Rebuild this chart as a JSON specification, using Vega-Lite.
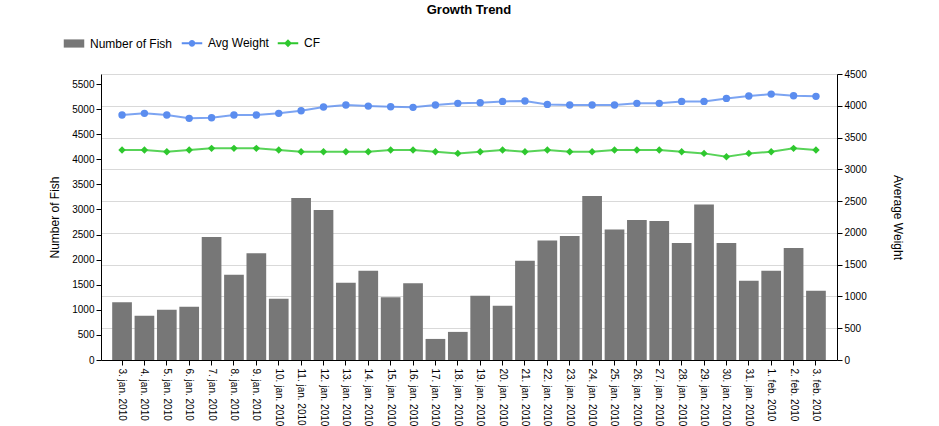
{
  "$schema": "https://vega.github.io/schema/vega-lite/v6.json",
  "autosize": "none",
  "width": 736,
  "height": 286,
  "padding": {"left": 101, "top": 74, "right": 102, "bottom": 66},
  "background": "white",
  "config": {
    "font": "Liberation Sans",
    "view": {"stroke": null},
    "axis": {"labelFont": "Liberation Sans", "titleFont": "Liberation Sans", "labelColor": "black", "titleColor": "black", "domainColor": "black", "tickColor": "black", "labelFontSize": 11, "titleFontSize": 12, "titleFontWeight": "normal", "tickSize": 5, "gridColor": "#d9d9d9"}
  },
  "title": {"text": "Growth Trend", "anchor": "middle", "fontSize": 13, "fontWeight": "bold", "font": "Liberation Sans", "color": "black", "offset": 20},
  "data": {"values": [
    {"date": "3. jan. 2010", "fish": 1150, "avg": 3854, "cf": 3303},
    {"date": "4. jan. 2010", "fish": 880, "avg": 3881, "cf": 3303},
    {"date": "5. jan. 2010", "fish": 1000, "avg": 3854, "cf": 3277},
    {"date": "6. jan. 2010", "fish": 1060, "avg": 3802, "cf": 3303},
    {"date": "7. jan. 2010", "fish": 2450, "avg": 3811, "cf": 3330},
    {"date": "8. jan. 2010", "fish": 1700, "avg": 3854, "cf": 3330},
    {"date": "9. jan. 2010", "fish": 2130, "avg": 3854, "cf": 3330},
    {"date": "10. jan. 2010", "fish": 1220, "avg": 3881, "cf": 3303},
    {"date": "11. jan. 2010", "fish": 3230, "avg": 3922, "cf": 3277},
    {"date": "12. jan. 2010", "fish": 2990, "avg": 3980, "cf": 3277},
    {"date": "13. jan. 2010", "fish": 1540, "avg": 4011, "cf": 3277},
    {"date": "14. jan. 2010", "fish": 1780, "avg": 3995, "cf": 3277},
    {"date": "15. jan. 2010", "fish": 1250, "avg": 3984, "cf": 3303},
    {"date": "16. jan. 2010", "fish": 1530, "avg": 3975, "cf": 3303},
    {"date": "17. jan. 2010", "fish": 420, "avg": 4011, "cf": 3277},
    {"date": "18. jan. 2010", "fish": 560, "avg": 4038, "cf": 3251},
    {"date": "19. jan. 2010", "fish": 1280, "avg": 4047, "cf": 3277},
    {"date": "20. jan. 2010", "fish": 1080, "avg": 4069, "cf": 3303},
    {"date": "21. jan. 2010", "fish": 1980, "avg": 4074, "cf": 3277},
    {"date": "22. jan. 2010", "fish": 2380, "avg": 4022, "cf": 3303},
    {"date": "23. jan. 2010", "fish": 2470, "avg": 4011, "cf": 3277},
    {"date": "24. jan. 2010", "fish": 3270, "avg": 4011, "cf": 3277},
    {"date": "25. jan. 2010", "fish": 2600, "avg": 4011, "cf": 3303},
    {"date": "26. jan. 2010", "fish": 2790, "avg": 4038, "cf": 3303},
    {"date": "27. jan. 2010", "fish": 2770, "avg": 4038, "cf": 3303},
    {"date": "28. jan. 2010", "fish": 2330, "avg": 4069, "cf": 3277},
    {"date": "29. jan. 2010", "fish": 3100, "avg": 4069, "cf": 3251},
    {"date": "30. jan. 2010", "fish": 2330, "avg": 4116, "cf": 3198},
    {"date": "31. jan. 2010", "fish": 1580, "avg": 4153, "cf": 3251},
    {"date": "1. feb. 2010", "fish": 1780, "avg": 4184, "cf": 3277},
    {"date": "2. feb. 2010", "fish": 2230, "avg": 4157, "cf": 3330},
    {"date": "3. feb. 2010", "fish": 1380, "avg": 4148, "cf": 3303}
  ]},
  "encoding": {
    "x": {"field": "date", "type": "ordinal", "sort": null, "title": null,
      "scale": {"paddingInner": 0.12, "paddingOuter": 0.5},
      "axis": {"labelAngle": 90, "labelAlign": "left", "labelBaseline": "middle", "labelPadding": 3, "labelFontSize": 10, "labelLimit": 0, "domainColor": "black"}}
  },
  "layer": [
    {
      "mark": {"type": "bar", "color": "#777777"},
      "encoding": {
        "y": {"field": "fish", "type": "quantitative", "title": "Number of Fish",
          "scale": {"domain": [0, 5700], "nice": false},
          "axis": {"orient": "left", "format": "d", "values": [0,500,1000,1500,2000,2500,3000,3500,4000,4500,5000,5500], "grid": false, "titlePadding": 10, "labelFontSize": 10}},
        "color": {"datum": "Number of Fish", "type": "nominal",
          "scale": {"domain": ["Number of Fish", "Avg Weight", "CF"], "range": ["#777777", "#5b8def", "#2ec82e"]},
          "legend": {"orient": "none", "legendX": -33, "legendY": -37, "direction": "horizontal", "title": null,
            "labelFont": "Liberation Sans", "labelFontSize": 12, "labelColor": "black", "symbolSize": 420, "labelOffset": 10, "columnPadding": 4,
            "encode": {"symbols": {"update": {
              "shape": {"signal": "datum.value === 'Number of Fish' ? 'M-1,-0.4H1V0.4H-1Z' : (datum.value === 'Avg Weight' ? 'M-1,0H1M0.22,0A0.22,0.22 0 1,1 -0.22,0A0.22,0.22 0 1,1 0.22,0Z' : 'M-1,0H1M0,-0.25L0.25,0L0,0.25L-0.25,0Z')"},
              "fill": {"scale": "color", "field": "value"},
              "stroke": {"scale": "color", "field": "value"},
              "strokeWidth": {"signal": "datum.value === 'Number of Fish' ? 0 : 2"},
              "opacity": {"value": 1}
            }}}}}
      }
    },
    {
      "encoding": {
        "y": {"type": "quantitative", "title": "Average Weight",
          "scale": {"domain": [0, 4500], "nice": false},
          "axis": {"orient": "right", "format": "d", "values": [0,500,1000,1500,2000,2500,3000,3500,4000,4500], "grid": true, "titlePadding": 24, "titleAngle": 90, "labelFontSize": 10}}
      },
      "layer": [
        {
          "mark": {"type": "line", "strokeWidth": 2, "opacity": 0.8},
          "encoding": {"y": {"field": "avg"}, "color": {"datum": "Avg Weight", "type": "nominal"}}
        },
        {
          "mark": {"type": "point", "filled": true, "size": 55, "opacity": 1, "shape": "circle"},
          "encoding": {"y": {"field": "avg"}, "color": {"datum": "Avg Weight", "type": "nominal"}}
        },
        {
          "mark": {"type": "line", "strokeWidth": 2, "opacity": 0.8},
          "encoding": {"y": {"field": "cf"}, "color": {"datum": "CF", "type": "nominal"}}
        },
        {
          "mark": {"type": "point", "filled": true, "size": 55, "opacity": 1, "shape": "diamond"},
          "encoding": {"y": {"field": "cf"}, "color": {"datum": "CF", "type": "nominal"}}
        }
      ]
    }
  ],
  "resolve": {"scale": {"y": "independent"}}
}
